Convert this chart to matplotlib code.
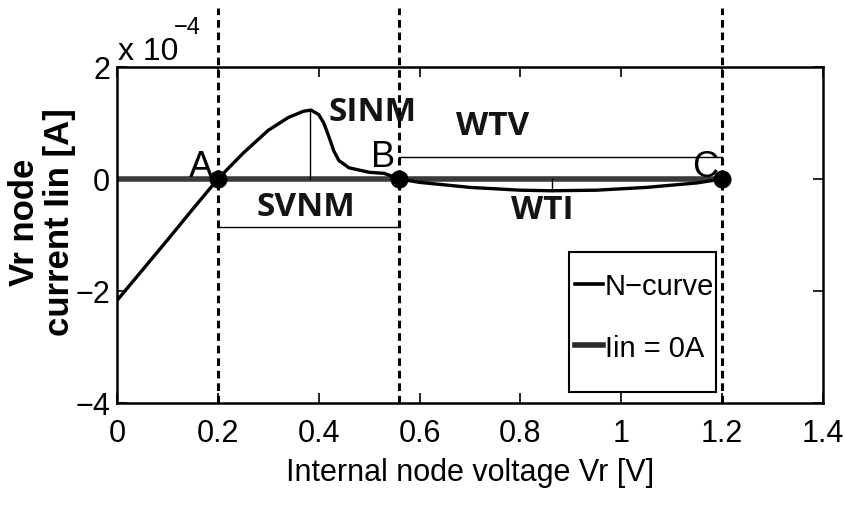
import numpy as np
import matplotlib
matplotlib.use('Agg')
import matplotlib.pyplot as plt
from matplotlib.lines import Line2D
from matplotlib.patches import Rectangle

# Daten (Strom in Einheiten von 1e-4 A)
vr = [0.0, 0.05, 0.10, 0.15, 0.20, 0.25, 0.30, 0.34, 0.37, 0.385, 0.40, 0.41,
      0.42, 0.43, 0.44, 0.46, 0.50, 0.53, 0.56, 0.60, 0.70, 0.80, 0.86, 0.95,
      1.05, 1.15, 1.20]
iin = [-2.17, -1.63, -1.09, -0.54, 0.0, 0.46, 0.87, 1.10, 1.21, 1.23, 1.15, 1.00,
       0.76, 0.50, 0.33, 0.20, 0.12, 0.10, 0.0, -0.06, -0.15, -0.20, -0.21, -0.20,
       -0.15, -0.07, 0.0]

points_x = [0.2, 0.56, 1.2]
points_lbl = ['A', 'B', 'C']
sinm_x, sinm_top = 0.383, 1.23
svnm_y = -0.86
wtv_y = 0.39
wti_x, wti_bot = 0.863, -0.22

xticks = [0, 0.2, 0.4, 0.6, 0.8, 1, 1.2, 1.4]
xtick_lbl = ['0', '0.2', '0.4', '0.6', '0.8', '1', '1.2', '1.4']
yticks = [-4, -2, 0, 2]
ytick_lbl = ['\u22124', '\u22122', '0', '2']

NARROW = ['Liberation Sans', 'DejaVu Sans']
BOLD = ['Open Sans', 'DejaVu Sans']

fig = plt.figure(figsize=(8.45, 5.06), dpi=100)
ax = fig.add_axes([117/845, 102/506, 706/845, 336/506])

# Nulllinie und N-Kurve
ax.plot([0, 1.2], [0, 0], color='#3a3a3a', lw=4.0, solid_capstyle='butt', zorder=2)
ax.plot(vr, iin, color='black', lw=2.4, zorder=3)

# senkrechte gestrichelte Linien
for px in points_x:
    ax.plot([px, px], [-4, 3.05], color='black', lw=2.2, ls=(0, (2.5, 1.6)),
            clip_on=False, zorder=4)
ax.plot(points_x, [0, 0, 0], 'o', color='black', ms=12, zorder=5)

# Messlinien
ax.plot([sinm_x, sinm_x], [0, sinm_top], color='black', lw=1.0, zorder=3)
ax.plot([points_x[0], points_x[1]], [svnm_y, svnm_y], color='black', lw=1.0)
ax.plot([points_x[1], points_x[2]], [wtv_y, wtv_y], color='black', lw=1.0)
ax.plot([wti_x, wti_x], [0, wti_bot], color='black', lw=1.0, zorder=3)

for px, lbl, dx, dy in zip(points_x, points_lbl, [-0.033, -0.032, -0.034], [0.05, 0.23, 0.05]):
    ax.text(px + dx, dy, lbl, family=NARROW, fontsize=26, ha='center', va='baseline')

for txt, tx, ty in [('SINM', 0.506, 1.21), ('SVNM', 0.375, -0.50),
                    ('WTV', 0.744, 0.95), ('WTI', 0.843, -0.55)]:
    ax.text(tx, ty, txt, family=BOLD, fontweight='bold', fontsize=24,
            ha='center', va='center', color='#141414')

ax.set_xlim(0, 1.4)
ax.set_ylim(-4, 2)
ax.set_xticks(xticks)
ax.set_xticklabels(xtick_lbl, family=NARROW, fontsize=22)
ax.set_yticks(yticks)
ax.set_yticklabels(ytick_lbl, family=NARROW, fontsize=22)
ax.tick_params(direction='in', length=7, width=1.2, top=True, right=True)
ax.tick_params(axis='x', pad=11)
ax.tick_params(axis='y', pad=5)
for s in ax.spines.values():
    s.set_linewidth(1.8)

ax.set_xlabel('Internal node voltage Vr [V]', family=NARROW, fontsize=22, labelpad=6)

fig.text(42/845, 1 - 222/506, 'Vr node\ncurrent Iin [A]', rotation=90,
         ha='center', va='center', multialignment='center',
         family=['Liberation Sans', 'DejaVu Sans'], fontweight='bold', fontsize=25,
         linespacing=1.05)

fig.text(118/845, 1 - 60/506, 'x 10', family=NARROW, fontsize=23, va='baseline')
fig.text(174/845, 1 - 34/506, '\u22124', family=NARROW, fontsize=17, va='baseline')

# Legende: Rahmen separat gezeichnet
ax.add_patch(Rectangle(((569-117)/706, (404-393)/336), (716-569)/706, (393-253)/336,
                       transform=ax.transAxes, fill=True, facecolor='white',
                       edgecolor='black', lw=1.5, zorder=6))
handles = [Line2D([], [], color='black', lw=2.6),
           Line2D([], [], color='#2a2a2a', lw=4.0)]
leg = ax.legend(handles, ['N\u2212curve', 'Iin = 0A'], loc='upper left',
                bbox_to_anchor=((575-117)/706, (404-273)/336),
                prop={'family': NARROW, 'size': 21}, frameon=False,
                handlelength=0.95, handletextpad=0.08, labelspacing=1.15,
                borderpad=0, borderaxespad=0)
leg.set_zorder(7)

fig.savefig('out.png', dpi=100)
